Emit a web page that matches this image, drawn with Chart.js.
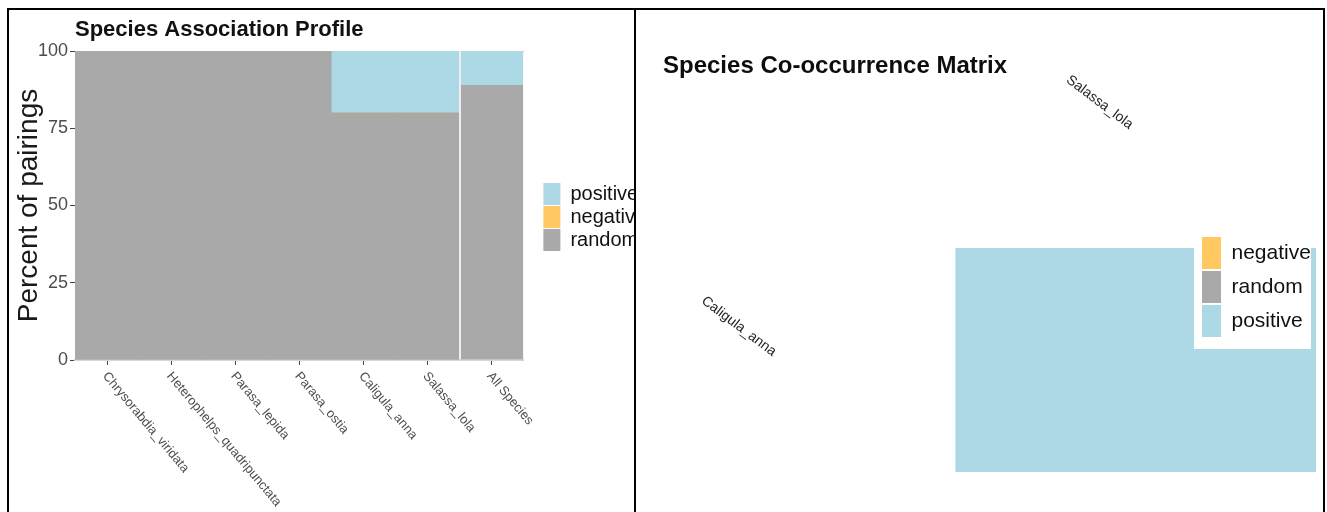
<!DOCTYPE html>
<html>
<head>
<meta charset="utf-8">
<script src="https://cdn.jsdelivr.net/npm/chart.js@4.4.1/dist/chart.umd.min.js"></script>
<style>
  html, body { margin: 0; padding: 0; background: #fff; }
  body { width: 1327px; height: 512px; position: relative; overflow: hidden; }
  #left { position: absolute; left: 10px; top: 10px; width: 646px; height: 502px; z-index: 1; }
  #rightPanel { position: absolute; left: 636px; top: 8px; width: 691px; height: 504px; background: #fff; z-index: 2; }
  #right { position: absolute; left: 1px; top: 2px; width: 687px; height: 502px; }
  #matrixLegend { position: absolute; left: 1194px; top: 233px; width: 117px; height: 116px; background: #fff; z-index: 3; overflow: hidden; }
  #matrixLegendInner { position: absolute; left: 0; top: 0; width: 220px; height: 116px; }
  #frame { position: absolute; left: 7px; top: 8px; width: 1314px; height: 520px; border: 2px solid #000; z-index: 4; pointer-events: none; }
  #divider { position: absolute; left: 634px; top: 8px; width: 2px; height: 504px; background: #000; z-index: 4; }
</style>
</head>
<body>
<div id="left"><canvas id="profileChart"></canvas></div>
<div id="rightPanel"><div id="right"><canvas id="matrixChart"></canvas></div></div>
<div id="matrixLegend"><div id="matrixLegendInner"><canvas id="matrixLegendChart"></canvas></div></div>
<div id="frame"></div>
<div id="divider"></div>
<script>
// --- 資料 ---
const speciesLabels = ['Chrysorabdia_viridata', 'Heterophelps_quadripunctata', 'Parasa_lepida',
  'Parasa_ostia', 'Caligula_anna', 'Salassa_lola', 'All Species'];
const pctRandom = [100, 100, 100, 100, 80, 80, 89];
const pctNegative = [0, 0, 0, 0, 0, 0, 0];
const pctPositive = [0, 0, 0, 0, 20, 20, 11];
const yTickStep = 25;

// 共現矩陣：只有一格 (Caligula_anna x Salassa_lola)
const matrixSpecies = ['Caligula_anna', 'Salassa_lola'];
const matrixCells = [{ col: 1, row: 0, type: 'positive' }];
const matrixLegendOrder = ['negative', 'random', 'positive'];

const COLORS = { positive: '#ADD8E6', negative: '#FFC861', random: '#A9A9A9' };
const SANS = "'Liberation Sans', Arial, sans-serif";

Chart.defaults.font.family = SANS;

// x 軸標籤斜放（文字往右下延伸），Chart.js 內建旋轉方向相反所以自己畫
const slantedTickLabels = {
  id: 'slantedTickLabels',
  afterDraw(chart) {
    const xs = chart.scales.x;
    const ctx = chart.ctx;
    ctx.save();
    ctx.font = '13px ' + SANS;
    ctx.fillStyle = '#4d4d4d';
    ctx.textAlign = 'left';
    ctx.textBaseline = 'middle';
    chart.data.labels.forEach((label, i) => {
      ctx.save();
      ctx.translate(xs.getPixelForTick(i) - 2, xs.bottom + 9);
      ctx.rotate(50 * Math.PI / 180);
      ctx.fillText(label, 0, 0);
      ctx.restore();
    });
    ctx.restore();
  }
};

// 矩陣對角線上的物種名稱
const diagonalNames = {
  id: 'diagonalNames',
  afterDatasetsDraw(chart) {
    const { x: xs, y: ys } = chart.scales;
    const ctx = chart.ctx;
    ctx.save();
    ctx.font = '14px ' + SANS;
    ctx.fillStyle = '#222';
    ctx.textAlign = 'center';
    ctx.textBaseline = 'middle';
    matrixSpecies.forEach((name, i) => {
      ctx.save();
      ctx.translate(xs.getPixelForValue(i + 0.4), ys.getPixelForValue(i + 0.65));
      ctx.rotate(37 * Math.PI / 180);
      ctx.fillText(name, 0, 0);
      ctx.restore();
    });
    ctx.restore();
  }
};

// --- 左圖：Species Association Profile ---
const lastIdx = speciesLabels.length - 1;
new Chart(document.getElementById('profileChart'), {
  type: 'bar',
  data: {
    labels: speciesLabels,
    datasets: [
      { label: 'random', data: pctRandom, backgroundColor: COLORS.random },
      { label: 'negative', data: pctNegative, backgroundColor: COLORS.negative },
      { label: 'positive', data: pctPositive, backgroundColor: COLORS.positive }
    ]
  },
  options: {
    animation: false,
    responsive: true,
    maintainAspectRatio: false,
    layout: { padding: { bottom: 147 } },
    datasets: {
      bar: {
        barPercentage: 1,
        categoryPercentage: 1,
        borderColor: '#eeeeee',
        borderWidth: ctx => ctx.dataIndex === lastIdx ? { left: 2, top: 0, right: 0, bottom: 0 } : 0
      }
    },
    scales: {
      x: {
        stacked: true,
        z: 1,
        grid: { display: true, drawOnChartArea: false, drawTicks: true, tickLength: 5, color: '#444', offset: false },
        border: { display: true, color: '#d6d6d6', width: 2 },
        ticks: { display: false }
      },
      y: {
        stacked: true,
        min: 0,
        max: 100,
        z: 1,
        ticks: { stepSize: yTickStep, color: '#4d4d4d', padding: 2, font: { size: 18 } },
        grid: {
          drawTicks: true,
          tickLength: 5,
          tickColor: '#444',
          color: ctx => (ctx.tick && ctx.tick.value === 100) ? '#666' : 'rgba(0,0,0,0)'
        },
        border: { display: false },
        title: {
          display: true,
          text: 'Percent of pairings',
          color: '#1a1a1a',
          font: { size: 28, lineHeight: 1 },
          padding: { top: 5, bottom: 0 }
        },
        afterFit: s => { s.width = 65; }
      },
      // 圖例和繪圖區之間的空隙
      legendGap: {
        type: 'linear',
        axis: 'y',
        position: 'right',
        grid: { display: false },
        ticks: { display: false },
        border: { display: false },
        afterFit: s => { s.width = 19; }
      }
    },
    plugins: {
      tooltip: { enabled: false },
      title: {
        display: true,
        text: 'Species Association Profile',
        align: 'start',
        fullSize: false,
        color: '#111',
        font: { size: 22, weight: 'bold' },
        padding: { top: 7, bottom: 7.6 }
      },
      legend: {
        position: 'right',
        fullSize: false,
        reverse: true,
        maxWidth: 200,
        title: { display: true, text: '', padding: 0, font: { size: 23, lineHeight: 1 } },
        labels: { boxWidth: 17, boxHeight: 22, padding: 1, color: '#111', font: { size: 20 } }
      }
    }
  },
  plugins: [slantedTickLabels]
});

// --- 右圖：Species Co-occurrence Matrix ---
new Chart(document.getElementById('matrixChart'), {
  type: 'scatter',
  data: {
    datasets: matrixCells.map(cell => ({
      label: cell.type,
      data: [{ x: cell.col, y: cell.row + 1 }, { x: cell.col + 1, y: cell.row + 1 }],
      showLine: true,
      fill: { value: cell.row },
      backgroundColor: COLORS[cell.type],
      borderColor: COLORS[cell.type],
      borderWidth: 0,
      pointRadius: 0
    }))
  },
  options: {
    animation: false,
    responsive: true,
    maintainAspectRatio: false,
    layout: { padding: { left: 26, right: 8, bottom: 40 } },
    scales: {
      x: { type: 'linear', display: false, min: 0.19, max: matrixSpecies.length },
      y: { type: 'linear', display: false, min: 0, max: 1.69 }
    },
    plugins: {
      legend: { display: false },
      tooltip: { enabled: false },
      title: {
        display: true,
        text: 'Species Co-occurrence Matrix',
        align: 'start',
        color: '#0d0d0d',
        font: { size: 24, weight: 'bold' },
        padding: { top: 41.6, bottom: 13 }
      }
    }
  },
  plugins: [diagonalNames]
});

// 矩陣圖例（疊在色塊上，白底）
new Chart(document.getElementById('matrixLegendChart'), {
  type: 'bar',
  data: {
    labels: [],
    datasets: matrixLegendOrder.map(t => ({ label: t, data: [], backgroundColor: COLORS[t] }))
  },
  options: {
    animation: false,
    responsive: true,
    maintainAspectRatio: false,
    layout: { padding: { left: 6, top: 2 } },
    scales: { x: { display: false }, y: { display: false } },
    plugins: {
      tooltip: { enabled: false },
      legend: {
        position: 'left',
        align: 'start',
        maxWidth: 200,
        labels: { boxWidth: 19, boxHeight: 32, padding: 2, color: '#111', font: { size: 21 } }
      }
    }
  }
});
</script>
</body>
</html>
